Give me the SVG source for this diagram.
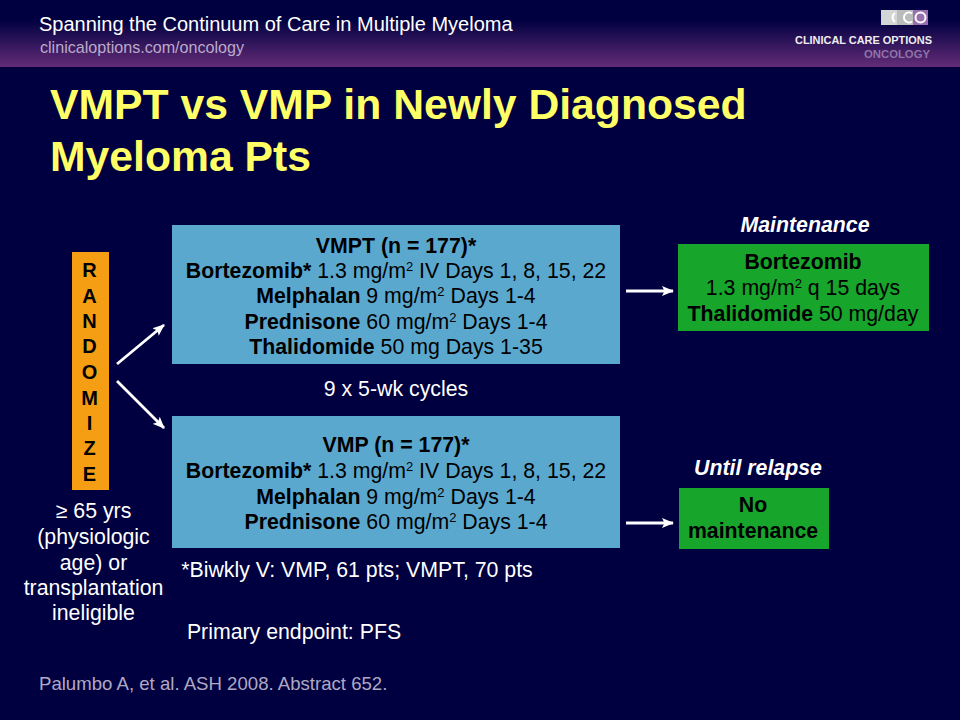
<svg xmlns="http://www.w3.org/2000/svg" width="960" height="720" viewBox="0 0 960 720">
<defs>
<linearGradient id="hdr" x1="0" y1="0" x2="0" y2="1"><stop offset="0.3" stop-color="#000040"/><stop offset="1" stop-color="#642c78"/></linearGradient>
<marker id="ah" markerUnits="userSpaceOnUse" markerWidth="13" markerHeight="11" refX="11" refY="5.500" orient="auto"><path d="M0 0.500L12 5.500L0 10.500L2.500 5.500Z" fill="#fff"/></marker>
</defs>
<style>
text{font-family:"Liberation Sans",Arial,sans-serif;}
.b{font-size:21.300px;fill:#000;text-anchor:middle}
.w{font-size:21.300px;fill:#fff;text-anchor:middle}
.s{font-weight:700}
.i{font-weight:700;font-style:italic;font-size:21.300px;fill:#fff;text-anchor:middle}
.r{font-weight:700;font-size:20px;fill:#000;text-anchor:middle}
.c{stroke:#fff;stroke-width:2.800;fill:none;marker-end:url(#ah)}
.sup{font-size:13px}
</style>
<rect width="960" height="720" fill="#000040"/>
<g id="header">
<rect width="960" height="67" fill="url(#hdr)"/>
<text x="39" y="31" font-size="20" fill="#fff">Spanning the Continuum of Care in Multiple Myeloma</text>
<text x="40" y="53" font-size="16.100" fill="#bcaaca">clinicaloptions.com/oncology</text>
</g>
<g id="logo">
<rect x="881" y="10" width="16" height="15" fill="#d3d6d4"/>
<rect x="897" y="10" width="16" height="15" fill="#b9bcba"/>
<rect x="913" y="10" width="15" height="15" fill="#9a6fb0"/>
<path d="M895 13a5.500 5.500 0 0 0 0 9" fill="none" stroke="#fff" stroke-width="2"/>
<path d="M912 13.500a5 5 0 1 0 0 8" fill="none" stroke="#fff" stroke-width="2"/>
<circle cx="920.500" cy="17.500" r="5" fill="none" stroke="#fff" stroke-width="2"/>
<text x="795" y="44" font-size="10.500" font-weight="700" fill="#eee" textLength="137" lengthAdjust="spacingAndGlyphs">CLINICAL CARE OPTIONS</text>
<text x="864" y="57.500" font-size="10.500" font-weight="700" fill="#8f73a6" textLength="66" lengthAdjust="spacingAndGlyphs">ONCOLOGY</text>
</g>
<g id="title" font-size="42.700" font-weight="700" fill="#ffff66">
<text x="50" y="119">VMPT vs VMP in Newly Diagnosed</text>
<text x="50" y="171">Myeloma Pts</text>
</g>
<g id="randomize">
<rect x="72" y="252" width="37" height="238" fill="#f59e13"/>
<text class="r" x="89.500" y="277">R</text>
<text class="r" x="89.500" y="303">A</text>
<text class="r" x="89.500" y="328">N</text>
<text class="r" x="89.500" y="353">D</text>
<text class="r" x="89.500" y="379">O</text>
<text class="r" x="89.500" y="405">M</text>
<text class="r" x="89.500" y="430">I</text>
<text class="r" x="89.500" y="455">Z</text>
<text class="r" x="89.500" y="481">E</text>
</g>
<g id="vmpt">
<rect x="172" y="225" width="448" height="139" fill="#5ba8cf"/>
<text class="b" x="396" y="253"><tspan class="s">VMPT (n = 177)*</tspan></text>
<text class="b" x="396" y="278"><tspan class="s">Bortezomib*</tspan> 1.3 mg/m<tspan class="sup" dy="-7">2</tspan><tspan dy="7"> IV Days 1, 8, 15, 22</tspan></text>
<text class="b" x="396" y="303"><tspan class="s">Melphalan</tspan> 9 mg/m<tspan class="sup" dy="-7">2</tspan><tspan dy="7"> Days 1-4</tspan></text>
<text class="b" x="396" y="329"><tspan class="s">Prednisone</tspan> 60 mg/m<tspan class="sup" dy="-7">2</tspan><tspan dy="7"> Days 1-4</tspan></text>
<text class="b" x="396" y="354"><tspan class="s">Thalidomide</tspan> 50 mg Days 1-35</text>
</g>
<g id="vmp">
<rect x="172" y="416" width="448" height="132" fill="#5ba8cf"/>
<text class="b" x="396" y="452"><tspan class="s">VMP (n = 177)*</tspan></text>
<text class="b" x="396" y="478"><tspan class="s">Bortezomib*</tspan> 1.3 mg/m<tspan class="sup" dy="-7">2</tspan><tspan dy="7"> IV Days 1, 8, 15, 22</tspan></text>
<text class="b" x="396" y="504"><tspan class="s">Melphalan</tspan> 9 mg/m<tspan class="sup" dy="-7">2</tspan><tspan dy="7"> Days 1-4</tspan></text>
<text class="b" x="396" y="529"><tspan class="s">Prednisone</tspan> 60 mg/m<tspan class="sup" dy="-7">2</tspan><tspan dy="7"> Days 1-4</tspan></text>
</g>
<g id="maintenance">
<text class="i" x="805" y="232">Maintenance</text>
<rect x="678" y="244" width="251" height="87" fill="#17a52b"/>
<text class="b" x="803" y="269"><tspan class="s">Bortezomib</tspan></text>
<text class="b" x="803" y="295">1.3 mg/m<tspan class="sup" dy="-7">2</tspan><tspan dy="7"> q 15 days</tspan></text>
<text class="b" x="803" y="321"><tspan class="s">Thalidomide</tspan> 50 mg/day</text>
</g>
<g id="no-maintenance">
<text class="i" x="758" y="475">Until relapse</text>
<rect x="679" y="488" width="150" height="61" fill="#17a52b"/>
<text class="b" x="753" y="512"><tspan class="s">No</tspan></text>
<text class="b" x="753" y="538"><tspan class="s">maintenance</tspan></text>
</g>
<g id="connectors">
<line class="c" x1="117" y1="364" x2="164" y2="325"/>
<line class="c" x1="117" y1="381" x2="164" y2="428"/>
<line class="c" x1="626" y1="291" x2="673" y2="291"/>
<line class="c" x1="626" y1="523" x2="673" y2="523"/>
</g>
<g id="labels">
<text class="w" x="396" y="396">9 x 5-wk cycles</text>
<text class="w" x="93.500" y="518">≥ 65 yrs</text>
<text class="w" x="93.500" y="544">(physiologic</text>
<text class="w" x="93.500" y="570">age) or</text>
<text class="w" x="93.500" y="595">transplantation</text>
<text class="w" x="93.500" y="620">ineligible</text>
<text class="w" x="357" y="577">*Biwkly V: VMP, 61 pts; VMPT, 70 pts</text>
<text class="w" x="294" y="639">Primary endpoint: PFS</text>
<text x="39" y="690" font-size="18.600" fill="#b0a8c4">Palumbo A, et al. ASH 2008. Abstract 652.</text>
</g>
</svg>
